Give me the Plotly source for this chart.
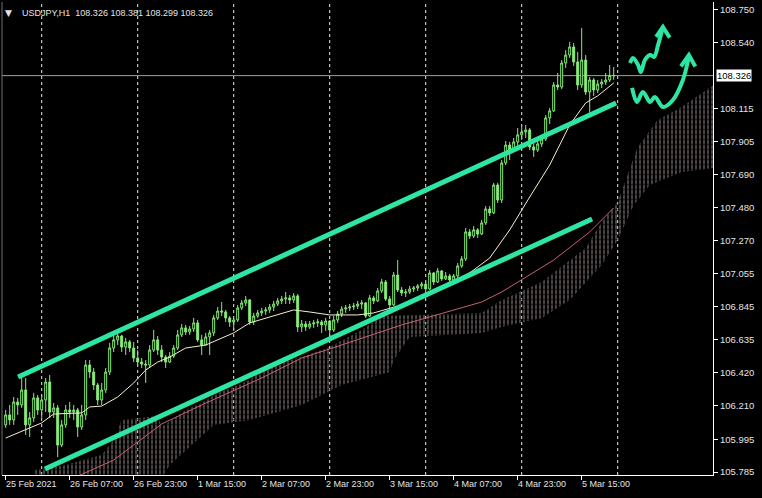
import plotly.graph_objects as go

# ---------------- data (hourly bars, index 0 = 25 Feb 2021 15:00) ----------------
opens = [106.087,106.151,106.119,106.234,106.215,106.311,106.087,106.132,106.260,106.183,
         106.247,106.362,106.170,106.196,105.958,106.087,106.183,106.170,106.183,106.074,
         106.151,106.471,106.426,106.343,106.247,106.311,106.426,106.580,106.632,106.657,
         106.586,106.619,106.580,106.516,106.490,106.477,106.471,106.567,106.632,106.567,
         106.522,106.490,106.528,106.580,106.664,106.709,106.683,106.702,106.741,106.632,
         106.599,106.651,106.677,106.773,106.817,106.811,106.773,106.747,106.760,106.837,
         106.869,106.888,106.747,106.785,106.805,106.817,106.824,106.843,106.862,106.882,
         106.894,106.901,106.888,106.914,106.715,106.734,106.715,106.734,106.741,106.747,
         106.728,106.753,106.696,106.760,106.798,106.830,106.837,106.843,106.849,106.862,
         106.869,106.785,106.901,106.882,106.946,107.003,106.894,106.856,107.048,106.952,
         106.933,106.939,106.958,106.965,106.978,106.990,106.958,107.061,107.003,107.074,
         107.023,107.042,107.016,107.042,107.106,107.151,107.324,107.298,107.337,107.311,
         107.382,107.471,107.446,107.625,107.529,107.766,107.881,107.849,107.901,107.946,
         107.965,107.978,107.869,107.849,107.888,107.920,108.055,108.100,108.266,108.253,
         108.407,108.458,108.510,108.414,108.266,108.426,108.221,108.298,108.234,108.272,
         108.285,108.298,108.326]
highs = [106.183,106.215,106.266,106.260,106.388,106.388,106.170,106.292,106.279,106.279,
         106.388,106.407,106.228,106.215,106.119,106.215,106.234,106.215,106.196,106.215,
         106.503,106.503,106.452,106.356,106.356,106.452,106.613,106.677,106.683,106.664,
         106.645,106.632,106.619,106.567,106.516,106.503,106.599,106.696,106.657,106.599,
         106.535,106.554,106.599,106.696,106.734,106.728,106.721,106.773,106.760,106.664,
         106.677,106.696,106.792,106.843,106.875,106.824,106.785,106.773,106.856,106.888,
         106.914,106.894,106.805,106.824,106.837,106.843,106.862,106.882,106.901,106.914,
         106.939,106.920,106.933,106.926,106.760,106.753,106.753,106.760,106.766,106.760,
         106.773,106.760,106.785,106.817,106.849,106.856,106.862,106.869,106.882,106.888,
         106.875,106.920,106.914,106.965,107.023,107.016,106.914,107.067,107.144,106.971,
         106.958,106.978,106.978,106.990,107.003,107.010,107.080,107.067,107.093,107.080,
         107.067,107.055,107.055,107.125,107.170,107.349,107.343,107.362,107.349,107.401,
         107.490,107.490,107.638,107.638,107.785,107.907,107.901,107.926,107.990,107.997,
         108.010,107.990,107.894,107.914,107.939,108.074,108.119,108.285,108.343,108.426,
         108.490,108.542,108.535,108.478,108.632,108.458,108.317,108.311,108.298,108.304,
         108.343,108.394,108.381]
lows = [106.068,106.087,106.087,106.151,106.196,106.023,106.010,106.106,106.151,106.132,
        106.170,106.132,106.132,105.881,105.945,106.068,106.132,106.119,106.010,106.055,
        106.119,106.388,106.311,106.215,106.215,106.292,106.407,106.554,106.599,106.554,
        106.535,106.554,106.490,106.471,106.452,106.356,106.452,106.554,106.535,106.490,
        106.452,106.484,106.516,106.567,106.651,106.664,106.664,106.683,106.619,106.535,
        106.599,106.535,106.657,106.760,106.785,106.747,106.715,106.696,106.747,106.824,
        106.849,106.728,106.728,106.773,106.785,106.792,106.805,106.817,106.849,106.862,
        106.862,106.862,106.869,106.683,106.683,106.690,106.702,106.709,106.715,106.677,
        106.690,106.651,106.683,106.741,106.779,106.805,106.817,106.824,106.830,106.830,
        106.773,106.779,106.862,106.875,106.933,106.882,106.830,106.849,106.939,106.914,
        106.907,106.926,106.939,106.946,106.958,106.933,106.952,106.984,106.997,107.010,
        107.016,106.997,107.003,107.029,107.093,107.138,107.279,107.285,107.285,107.304,
        107.369,107.426,107.439,107.510,107.510,107.753,107.785,107.837,107.862,107.914,
        107.926,107.849,107.805,107.837,107.869,107.907,108.016,108.093,108.234,108.240,
        108.375,108.439,108.388,108.234,108.247,108.202,108.087,108.196,108.215,108.247,
        108.266,108.285,108.299]
closes = [106.151,106.119,106.234,106.215,106.311,106.087,106.132,106.260,106.183,106.247,
          106.362,106.170,106.196,105.958,106.087,106.183,106.170,106.183,106.074,106.151,
          106.471,106.426,106.343,106.247,106.311,106.426,106.580,106.632,106.657,106.586,
          106.619,106.580,106.516,106.490,106.477,106.471,106.567,106.632,106.567,106.522,
          106.490,106.528,106.580,106.664,106.709,106.683,106.702,106.741,106.632,106.599,
          106.651,106.677,106.773,106.817,106.811,106.773,106.747,106.760,106.837,106.869,
          106.888,106.747,106.785,106.805,106.817,106.824,106.843,106.862,106.882,106.894,
          106.901,106.888,106.914,106.715,106.734,106.715,106.734,106.741,106.747,106.728,
          106.753,106.696,106.760,106.798,106.830,106.837,106.843,106.849,106.862,106.869,
          106.785,106.901,106.882,106.946,107.003,106.894,106.856,107.048,106.952,106.933,
          106.939,106.958,106.965,106.978,106.990,106.958,107.061,107.003,107.074,107.023,
          107.042,107.016,107.042,107.106,107.151,107.324,107.298,107.337,107.311,107.382,
          107.471,107.446,107.625,107.529,107.766,107.881,107.849,107.901,107.946,107.965,
          107.978,107.869,107.849,107.888,107.920,108.055,108.100,108.266,108.253,108.407,
          108.458,108.510,108.414,108.266,108.426,108.221,108.298,108.234,108.272,108.285,
          108.298,108.326,108.326]

# fast moving average (cream line), read at key bars
ma_fast_idx = [0, 5, 9, 12, 19, 21, 24, 28, 32, 35, 38, 41, 45, 50, 54, 57, 61, 65, 69, 72,
               76, 81, 88, 92, 98, 105, 112, 117, 121, 126, 131, 136, 141, 145, 148, 152]
ma_fast = [106.003, 106.055, 106.100, 106.157, 106.164, 106.202, 106.208, 106.266, 106.356,
           106.439, 106.490, 106.522, 106.580, 106.599, 106.645, 106.677, 106.741, 106.773,
           106.805, 106.824, 106.811, 106.792, 106.792, 106.805, 106.849, 106.907, 106.997,
           107.080, 107.157, 107.337, 107.548, 107.753, 108.010, 108.151, 108.196, 108.279]

# slow moving average (dull red line)
ma_slow_idx = [17, 27, 39, 49, 64, 74, 81, 99, 119, 124, 137, 146, 152]
ma_slow = [105.747, 105.862, 106.093, 106.215, 106.388, 106.516, 106.574, 106.728, 106.875,
           106.939, 107.144, 107.324, 107.478]

# Ichimoku cloud outline (upper edge left->right, lower edge right->left)
cloud_top_idx = [7, 14, 24, 27, 29, 38, 39, 45, 49, 53, 57, 61, 65, 74, 81, 89, 94, 119, 124,
                 134, 145, 149, 153, 158, 163, 169, 177]
cloud_top = [105.798, 105.824, 105.894, 105.990, 106.119, 106.144, 106.074, 106.183, 106.228,
             106.292, 106.330, 106.375, 106.458, 106.522, 106.587, 106.696, 106.785, 106.805,
             106.888, 107.003, 107.221, 107.388, 107.516, 107.869, 108.042, 108.125, 108.266]
cloud_bot_idx = [177, 169, 161, 157, 153, 149, 141, 134, 124, 119, 101, 97, 96, 84, 74, 61, 52,
                 41, 39, 7]
cloud_bot = [107.734, 107.708, 107.625, 107.497, 107.273, 107.112, 106.888, 106.773, 106.715,
             106.676, 106.651, 106.503, 106.426, 106.343, 106.215, 106.119, 106.087, 105.830,
             105.747, 105.747]

# hand drawn channel lines
upper_line_idx = [3.1, 152.6]
upper_line = [106.394, 108.151]
lower_line_idx = [9.8, 146.6]
lower_line = [105.805, 107.407]

# hand drawn arrows
arrow1_idx = [156.1, 156.8, 158.1, 158.8, 159.8, 161.1, 162.1, 163.1, 164.3]
arrow1 = [108.407, 108.439, 108.394, 108.349, 108.426, 108.458, 108.446, 108.523, 108.638]
arrow1_head_idx = [162.6, 164.3, 166.0]
arrow1_head = [108.575, 108.638, 108.570]
arrow2_idx = [156.6, 157.8, 159.3, 161.1, 162.3, 164.3, 166.8, 169.3, 170.6, 170.8]
arrow2 = [108.247, 108.157, 108.221, 108.157, 108.189, 108.125, 108.170, 108.298, 108.426, 108.458]
arrow2_head_idx = [168.8, 170.8, 172.4]
arrow2_head = [108.385, 108.458, 108.385]

# axis labels
time_tick_idx = [0, 16, 32, 48, 64, 80, 96, 112, 128, 144]
time_tick_text = ["25 Feb 2021", "26 Feb 07:00", "26 Feb 23:00", "1 Mar 15:00", "2 Mar 07:00",
                  "2 Mar 23:00", "3 Mar 15:00", "4 Mar 07:00", "4 Mar 23:00", "5 Mar 15:00"]
day_separator_idx = [9, 33, 57, 81, 105, 129, 153]
price_ticks = [108.750, 108.540, 108.115, 107.905, 107.690, 107.480, 107.270, 107.055,
               106.845, 106.635, 106.420, 106.210, 105.995, 105.785]

# ---------------- figure ----------------
bars = list(range(len(closes)))
GREEN = "#2DE6A3"
CANDLE = "#8CEC7C"
TXT = "#E4E4E4"
FONT = "Liberation Sans"

fig = go.Figure()

cloud_x = cloud_top_idx + cloud_bot_idx
cloud_y = cloud_top + cloud_bot
# vertical hatch lines of the cloud
fig.add_trace(go.Scatter(
    x=cloud_x, y=cloud_y, mode="lines", fill="toself", fillcolor="rgba(0,0,0,0)",
    fillpattern=dict(shape="|", fgcolor="#FFE4E4", bgcolor="rgba(0,0,0,0)", size=4, solidity=0.3),
    line=dict(width=0), hoverinfo="skip", showlegend=False))
# break the hatch lines into dashes
fig.add_trace(go.Scatter(
    x=cloud_x, y=cloud_y, mode="lines", fill="toself", fillcolor="rgba(0,0,0,0)",
    fillpattern=dict(shape="-", fgcolor="#000000", bgcolor="rgba(0,0,0,0)", size=5, solidity=0.3),
    line=dict(width=0), hoverinfo="skip", showlegend=False))

fig.add_trace(go.Scatter(x=ma_slow_idx, y=ma_slow, mode="lines",
                         line=dict(color="#C8606E", width=1), hoverinfo="skip", showlegend=False))
fig.add_trace(go.Scatter(x=ma_fast_idx, y=ma_fast, mode="lines",
                         line=dict(color="#F8EFD0", width=1), hoverinfo="skip", showlegend=False))

fig.add_trace(go.Candlestick(
    x=bars, open=opens, high=highs, low=lows, close=closes,
    increasing=dict(line=dict(color=CANDLE, width=1), fillcolor="#000000"),
    decreasing=dict(line=dict(color=CANDLE, width=1), fillcolor=CANDLE),
    whiskerwidth=0, hoverinfo="skip", showlegend=False))

for xs, ys in [(upper_line_idx, upper_line), (lower_line_idx, lower_line)]:
    fig.add_trace(go.Scatter(x=xs, y=ys, mode="lines", line=dict(color=GREEN, width=5),
                             hoverinfo="skip", showlegend=False))
for xs, ys in [(arrow1_idx, arrow1), (arrow2_idx, arrow2)]:
    fig.add_trace(go.Scatter(x=xs, y=ys, mode="lines",
                             line=dict(color=GREEN, width=4, shape="spline", smoothing=1.0),
                             hoverinfo="skip", showlegend=False))
for xs, ys in [(arrow1_head_idx, arrow1_head), (arrow2_head_idx, arrow2_head)]:
    fig.add_trace(go.Scatter(x=xs, y=ys, mode="lines", line=dict(color=GREEN, width=4),
                             hoverinfo="skip", showlegend=False))

for d in day_separator_idx:
    fig.add_shape(type="line", xref="x", yref="paper", x0=d, x1=d, y0=0, y1=1,
                  line=dict(color="#E8E8E8", width=1, dash="3px,3px"), layer="below")

fig.add_shape(type="line", xref="paper", yref="y", x0=0, x1=1, y0=closes[-1], y1=closes[-1],
              line=dict(color="#A0A0A0", width=1), layer="below")
fig.add_shape(type="line", xref="paper", yref="paper", x0=0, x1=0, y0=0, y1=1,
              line=dict(color="#707070", width=1), layer="above")

annotations = []
for idx, txt in zip(time_tick_idx, time_tick_text):
    annotations.append(dict(x=idx, y=0, xref="x", yref="paper", text=txt, showarrow=False,
                            xanchor="left", yanchor="top", xshift=-2, yshift=-2,
                            font=dict(family=FONT, size=9, color=TXT)))
annotations.append(dict(x=1, y=closes[-1], xref="paper", yref="y", text=f"{closes[-1]:.3f}",
                        showarrow=False, xanchor="left", yanchor="middle", xshift=3,
                        bgcolor="#FFFFFF", borderpad=0,
                        font=dict(family=FONT, size=9.5, color="#000000")))
title = f"USDJPY,H1  {opens[-1]:.3f} {highs[-1]:.3f} {lows[-1]:.3f} {closes[-1]:.3f}"
annotations.append(dict(x=0.026, y=0.977, xref="paper", yref="paper", text=title, showarrow=False,
                        xanchor="left", yanchor="middle", font=dict(family=FONT, size=9, color=TXT)))
annotations.append(dict(x=0.0095, y=0.976, xref="paper", yref="paper", text="▼", showarrow=False,
                        xanchor="center", yanchor="middle", font=dict(family="DejaVu Sans", size=9, color=TXT)))

fig.update_layout(
    width=762, height=498,
    margin=dict(l=2, r=49, t=2, b=23),
    paper_bgcolor="#000000", plot_bgcolor="#000000",
    showlegend=False,
    annotations=annotations,
    xaxis=dict(range=[-0.925, 176.825], showgrid=False, zeroline=False,
               rangeslider=dict(visible=False),
               tickmode="array", tickvals=time_tick_idx, showticklabels=False,
               ticks="outside", ticklen=4, tickcolor="#FFFFFF",
               showline=True, linecolor="#FFFFFF", linewidth=1, fixedrange=True),
    yaxis=dict(range=[105.766, 108.798], side="right", showgrid=False, zeroline=False,
               tickmode="array", tickvals=price_ticks,
               ticktext=[f"{v:.3f}" for v in price_ticks],
               ticks="outside", ticklen=4, tickcolor="#FFFFFF",
               tickfont=dict(family=FONT, size=9.5, color=TXT),
               showline=True, linecolor="#FFFFFF", linewidth=1, fixedrange=True),
)

fig.write_html("out.html", config={"displayModeBar": False},
               post_script="document.body.style.margin='0';")
